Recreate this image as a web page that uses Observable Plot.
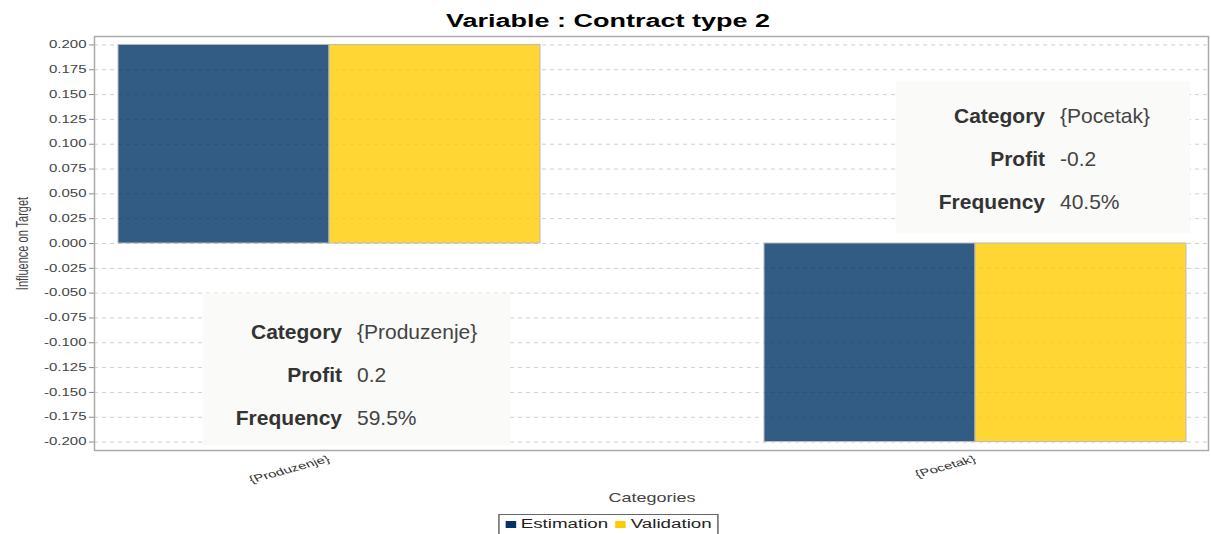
<!DOCTYPE html>
<html><head><meta charset="utf-8">
<script src="https://cdn.jsdelivr.net/npm/d3@7"></script>
<script src="https://cdn.jsdelivr.net/npm/@observablehq/plot@0.6"></script>
<style>
body{margin:0;background:#fff;font-family:"Liberation Sans",Arial,sans-serif;width:1211px;overflow:hidden}
#title{height:30px;box-sizing:border-box;padding-top:8px;padding-left:6px;line-height:26px;text-align:center;font-weight:bold;font-size:18px;color:#000}
#title span{display:inline-block;transform:scaleX(1.5)}
#legend{margin-top:2px;text-align:center;height:22px;padding-left:6px}
#legend .box{display:inline-block;transform:scaleX(1.5);border:1px solid #666;padding:2px 4px 4px 4px;font-size:12.5px;color:#222;line-height:14px;white-space:nowrap}
#legend .sw{display:inline-block;width:7px;height:7px;margin-right:3px}
#legend .item{margin-right:5px}
#legend .item:last-child{margin-right:0}
</style></head><body>
<div id="title"><span>Variable : Contract type 2</span></div>
<div id="chart"></div>
<div id="legend"></div>
<script>
const categories = ["{Produzenje}", "{Pocetak}"];
const seriesNames = ["Estimation", "Validation"];
const estimation = [0.2, -0.2];
const validation = [0.2, -0.2];
const frequency = ["59.5%", "40.5%"];
const noteLabels = ["Category", "Profit", "Frequency"];
const yTicks = [0.2, 0.175, 0.15, 0.125, 0.1, 0.075, 0.05, 0.025, 0, -0.025, -0.05, -0.075, -0.1, -0.125, -0.15, -0.175, -0.2];
const seriesColors = ["#003366", "#ffcc00"];

const rows = [];
categories.forEach((c, i) => {
  rows.push({category: c, series: seriesNames[0], value: estimation[i]});
  rows.push({category: c, series: seriesNames[1], value: validation[i]});
});

// grid lines reach across the gap between the two category groups (layout only)
const gridInsets = [{l: -23, r: -112}, {l: -112, r: -22}];
const gridMarks = categories.map((c, i) =>
  Plot.ruleY(yTicks, {fx: () => c, insetLeft: gridInsets[i].l, insetRight: gridInsets[i].r,
    stroke: "#cfcfcf", strokeDasharray: "4,4"}));

// placement of the two info boxes (layout only)
const notePlacement = [
  {frameAnchor: "bottom", dx: 118, dy: -82, pad: {t: 27, r: 33, b: 16, l: 33}},
  {frameAnchor: "top", dx: 175, dy: 116, pad: {t: 23, r: 40, b: 20, l: 43}}
];

const noteMarks = categories.flatMap((c, i) => {
  const p = notePlacement[i];
  const common = {fx: () => c, x: () => seriesNames[0], frameAnchor: p.frameAnchor, dy: p.dy,
    fontSize: 21, lineHeight: 2.05, lineAnchor: "middle"};
  return [
    Plot.text([i], {...common, text: () => noteLabels.join("\n"), dx: p.dx, textAnchor: "end",
      fontWeight: "bold", fill: "#333", ariaDescription: "note-label-" + i}),
    Plot.text([i], {...common, text: () => [c, String(estimation[i]), frequency[i]].join("\n"),
      dx: p.dx + 15, textAnchor: "start", fill: "#444", ariaDescription: "note-value-" + i})
  ];
});

const plot = Plot.plot({
  width: 1211, height: 482,
  marginTop: 6, marginBottom: 62, marginLeft: 94, marginRight: 1,
  style: {fontFamily: '"Liberation Sans", Arial, sans-serif', fontSize: "10px", color: "#444", background: "#fff", overflow: "visible"},
  fx: {domain: categories, paddingInner: 0.345, paddingOuter: 0.0355, axis: null},
  x: {domain: seriesNames, padding: 0, axis: null},
  y: {domain: [-0.2085, 0.2085], axis: null},
  color: {domain: seriesNames, range: seriesColors},
  marks: [
    ...gridMarks,
    Plot.barY(rows, {fx: "category", x: "series", y: "value", fill: "series", fillOpacity: 0.8, stroke: "#bbb", strokeWidth: 1}),
    ...noteMarks,
    Plot.axisY(yTicks, {tickFormat: d => d.toFixed(3), tickSize: 5, tickPadding: 3, fontSize: 10, stroke: "#888", fill: "#444",
      dx: -23, label: "Influence on Target", labelAnchor: "center", labelArrow: "none", labelOffset: 101}),
    Plot.axisFx({anchor: "bottom", tickRotate: -22.5, tickSize: 0, tickPadding: 8, fontSize: 10, fill: "#333", label: null}),
    Plot.text(["Categories"], {facet: "super", frameAnchor: "bottom", dy: 51, fontSize: 12, fill: "#444"}),
    Plot.frame({facet: "super", insetLeft: -23, insetRight: -22, stroke: "#aaa", strokeWidth: 1.5})
  ]
});
document.getElementById("chart").append(plot);

// Horizontal stretch of the chart's own texts (the reference image is widened)
const S = 1.5;
plot.querySelectorAll("text").forEach(t => {
  if (t.closest('[aria-description^="note"]')) return;
  if (t.textContent === "Influence on Target") { t.setAttribute("font-size", 11); t.style.fontSize = "11px"; }
  const tr = t.getAttribute("transform");
  if (tr) {
    const m = tr.match(/^\s*translate\([^)]*\)/);
    if (m) t.setAttribute("transform", m[0] + ` scale(${S},1)` + tr.slice(m[0].length));
    else t.setAttribute("transform", tr + ` scale(${S},1)`);
  } else {
    const x = +t.getAttribute("x") || 0, y = +t.getAttribute("y") || 0;
    t.removeAttribute("x"); t.removeAttribute("y");
    t.setAttribute("transform", `translate(${x},${y}) scale(${S},1)`);
  }
});

// Background boxes behind the info notes
const svgNS = "http://www.w3.org/2000/svg";
categories.forEach((c, i) => {
  const groups = [...plot.querySelectorAll(`[aria-description="note-label-${i}"], [aria-description="note-value-${i}"]`)]
    .filter(g => g.querySelector("text"));
  if (!groups.length) return;
  let x0 = Infinity, y0 = Infinity, x1 = -Infinity, y1 = -Infinity;
  groups.forEach(g => g.querySelectorAll("text").forEach(t => {
    const r = t.getBoundingClientRect();
    x0 = Math.min(x0, r.left); y0 = Math.min(y0, r.top);
    x1 = Math.max(x1, r.right); y1 = Math.max(y1, r.bottom);
  }));
  const pad = notePlacement[i].pad;
  const parent = groups[0].parentNode;
  const inv = parent.getScreenCTM().inverse();
  const a = new DOMPoint(x0 - pad.l, y0 - pad.t).matrixTransform(inv);
  const b = new DOMPoint(x1 + pad.r, y1 + pad.b).matrixTransform(inv);
  const rect = document.createElementNS(svgNS, "rect");
  rect.setAttribute("x", a.x); rect.setAttribute("y", a.y);
  rect.setAttribute("width", b.x - a.x); rect.setAttribute("height", b.y - a.y);
  rect.setAttribute("fill", "#fafaf8");
  parent.insertBefore(rect, groups[0]);
});

// Legend
const legend = document.getElementById("legend");
const box = document.createElement("div");
box.className = "box";
seriesNames.forEach((s, i) => {
  const item = document.createElement("span");
  item.className = "item";
  const sw = document.createElement("span");
  sw.className = "sw";
  sw.style.background = seriesColors[i];
  item.append(sw, document.createTextNode(s));
  box.append(item);
});
legend.append(box);
</script>
</body></html>
